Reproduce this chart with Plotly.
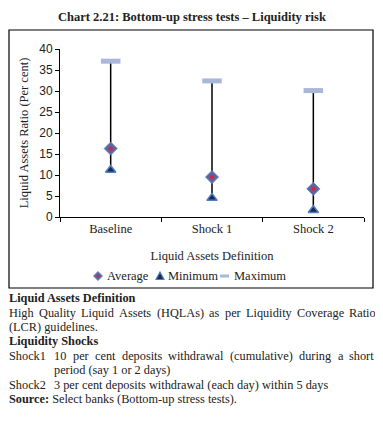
import plotly.graph_objects as go

categories = ["Baseline", "Shock 1", "Shock 2"]
average = [16.3, 9.5, 6.7]
minimum = [11.2, 4.5, 1.6]
maximum = [37.1, 32.4, 30.1]
y_ticks = [0, 5, 10, 15, 20, 25, 30, 35, 40]

# the page body keeps an 8px margin, so the figure is drawn 8px in from the window edges
OFF = 8
W, H = 383 - OFF, 428 - OFF
L, R, T, B = 60 - OFF, 19, 49 - OFF, 211
PW, PH = W - L - R, H - T - B

def px(x):
    return (x - OFF - L) / PW

def py(y):
    return 1 - (y - OFF - T) / PH

SERIF = "Liberation Serif"
SANS = "Liberation Sans"
TXT = "#222"
NOTE_SIZE = 12.3

fig = go.Figure()

# high-low lines
lx, ly = [], []
for c, lo, hi in zip(categories, minimum, maximum):
    lx += [c, c, None]
    ly += [lo, hi, None]
fig.add_trace(go.Scatter(x=lx, y=ly, mode="lines", line=dict(color="black", width=1.5),
                         showlegend=False, hoverinfo="skip"))

fig.add_trace(go.Scatter(x=categories, y=average, mode="markers", name="Average",
                         marker=dict(symbol="diamond", size=10, color="#5b659f",
                                     line=dict(color="#6f86bf", width=1))))
fig.add_trace(go.Scatter(x=categories, y=average, mode="markers", showlegend=False,
                         marker=dict(symbol="circle", size=4, color="#e0203a")))
fig.add_trace(go.Scatter(x=categories, y=minimum, mode="markers", name="Minimum",
                         marker=dict(symbol="triangle-up", size=9, color="#1b2a55",
                                     line=dict(color="#4f7fc0", width=1.5))))
fig.add_trace(go.Scatter(x=categories, y=maximum, mode="markers", name="Maximum",
                         marker=dict(symbol="line-ew", size=14,
                                     line=dict(color="#a9b7d9", width=5))))

fig.update_xaxes(type="category", showline=True, linecolor="black", linewidth=1,
                 ticks="outside", tickson="boundaries", ticklen=4, tickcolor="black",
                 tickfont=dict(family=SERIF, size=12.5, color=TXT),
                 title=dict(text="Liquid Assets Definition", font=dict(family=SERIF, size=12.5, color=TXT),
                            standoff=16),
                 range=[-0.5, 2.5], showgrid=False, automargin=False)
fig.update_yaxes(range=[0, 40], tickvals=y_ticks, showline=True, linecolor="black", linewidth=1,
                 ticks="outside", ticklen=4, tickcolor="black", showgrid=False, zeroline=False,
                 tickfont=dict(family=SANS, size=12, color=TXT), automargin=False,
                 title=dict(text="Liquid Assets Ratio (Per cent)", font=dict(family=SERIF, size=12.5, color=TXT),
                            standoff=7))

# Times-compatible advance widths (per 1000 em) for justifying lines
CW = {" ": 250, "(": 333, ")": 333, ".": 250, ",": 250, "-": 333}
CW.update({d: 500 for d in "0123456789"})
CW.update(dict(zip("ABCDEFGHIJKLMNOPQRSTUVWXYZ",
                   [722, 667, 667, 722, 611, 556, 722, 722, 333, 389, 722, 611, 889,
                    722, 722, 556, 722, 667, 556, 611, 722, 722, 944, 722, 722, 611])))
CW.update(dict(zip("abcdefghijklmnopqrstuvwxyz",
                   [444, 500, 444, 500, 444, 333, 500, 500, 278, 278, 500, 278, 778,
                    500, 500, 500, 500, 333, 389, 278, 500, 500, 722, 500, 500, 444])))

def word_w(word, size):
    return sum(CW.get(ch, 500) for ch in word) * size / 1000

ann = []

def note(x, y, text, size=NOTE_SIZE):
    ann.append(dict(text=text, x=px(x), y=py(y), xanchor="left", yanchor="middle",
                    font=dict(family=SERIF, size=size, color=TXT)))

def justified(x0, x1, y, text, size=NOTE_SIZE):
    words = text.split(" ")
    widths = [word_w(w, size) for w in words]
    gap = (x1 - x0 - sum(widths)) / (len(words) - 1)
    x = x0
    for w, ww in zip(words, widths):
        note(x, y, w, size)
        x += ww + gap

ann.append(dict(text="<b>Chart 2.21: Bottom-up stress tests – Liquidity risk</b>", x=px(192), y=py(17),
                xanchor="center", yanchor="middle", font=dict(family=SERIF, size=12.5, color=TXT)))
note(8, 298, "<b>Liquid Assets Definition</b>")
justified(8, 375, 313, "High Quality Liquid Assets (HQLAs) as per Liquidity Coverage Ratio")
note(8, 327, "(LCR) guidelines.")
note(8, 341, "<b>Liquidity Shocks</b>")
note(8, 356, "Shock1")
justified(53, 373, 356, "10 per cent deposits withdrawal (cumulative) during a short")
note(53, 370, "period (say 1 or 2 days)")
note(8, 385, "Shock2")
note(53, 385, "3 per cent deposits withdrawal (each day) within 5 days")
note(8, 399, "<b>Source:</b> Select banks (Bottom-up stress tests).")

# compact legend
legend_items = [(106, "Average"), (167, "Minimum"), (233, "Maximum")]
for x, t in legend_items:
    note(x, 276, t, 12.5)
for a in ann:
    a.update(xref="paper", yref="paper", showarrow=False, borderpad=0)

def path(points):
    return "M " + " L ".join(f"{px(x):.5f},{py(y):.5f}" for x, y in points) + " Z"

shapes = [
    dict(type="rect", xref="paper", yref="paper", x0=px(9), x1=px(373), y0=py(288), y1=py(30),
         line=dict(color="black", width=1.2), fillcolor="rgba(0,0,0,0)", layer="below"),
    dict(type="path", xref="paper", yref="paper",
         path=path([(98, 271.5), (102.5, 276), (98, 280.5), (93.5, 276)]),
         fillcolor="#5b659f", line=dict(color="#6f86bf", width=1)),
    dict(type="circle", xref="paper", yref="paper", x0=px(96.7), x1=px(99.3), y0=py(277.3), y1=py(274.7),
         fillcolor="#e0203a", line=dict(width=0)),
    dict(type="path", xref="paper", yref="paper",
         path=path([(160, 272), (164, 279.5), (156, 279.5)]),
         fillcolor="#1b2a55", line=dict(color="#4f7fc0", width=1.2)),
    dict(type="rect", xref="paper", yref="paper", x0=px(220), x1=px(229), y0=py(277.5), y1=py(274.5),
         fillcolor="#a9b7d9", line=dict(width=0)),
]

fig.update_layout(
    width=W, height=H, margin=dict(l=L, r=R, t=T, b=B, pad=0),
    paper_bgcolor="white", plot_bgcolor="white",
    annotations=ann, shapes=shapes, showlegend=False,
)

fig.write_html("out.html")
